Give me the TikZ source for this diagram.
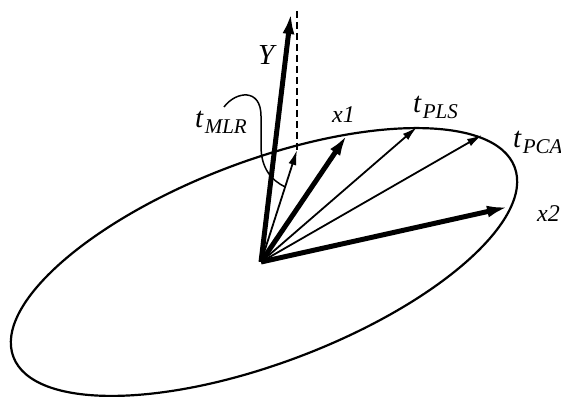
\documentclass[tikz,border=0pt]{standalone}
\usepackage{fontspec}
\setmainfont{Liberation Serif}
\usetikzlibrary{calc,arrows.meta}
\newcommand{\lblsub}[1]{\kern1.5pt\raisebox{-6pt}{\fontsize{21}{24}\selectfont #1}}

\begin{document}
\begin{tikzpicture}[x=1pt, y=1pt,
  thickvec/.style={line width=5pt, -{Latex[length=21pt,width=12pt]}},
  thinvec/.style={line width=1.8pt, -{Latex[length=15pt,width=8pt]}},
  lbl/.style={anchor=base west, inner sep=0pt, font=\fontsize{29}{33}\selectfont\itshape},
  xlbl/.style={lbl, font=\fontsize{24}{28}\selectfont\itshape}]
  \useasboundingbox (0,0) rectangle (561,396);
  \clip (0,0) rectangle (561,396);

  % Origin and tips of the vectors
  \coordinate (O)    at (261,134);
  \coordinate (ytip) at (291,383);
  \coordinate (dtop) at (297,385);
  \coordinate (tmlr) at (297,246);
  \coordinate (xone) at (347,261);
  \coordinate (tpls) at (417,269);
  \coordinate (tpca) at (482,261);
  \coordinate (xtwo) at (508,189);

  % Ellipse
  \draw[line width=2.2pt, rotate around={20.75:(264,134)}] (264,134) ellipse (268 and 101);

  % Projection of Y
  \draw[line width=1.8pt, dash pattern=on 7pt off 4pt] (dtop) -- (tmlr);

  % Vectors
  \draw[thinvec]  (O) -- (tmlr);
  \draw[thinvec]  (O) -- (tpls);
  \draw[thinvec]  (O) -- (tpca);
  \draw[thickvec] (O) -- (ytip);
  \draw[thickvec] (O) -- (xone);
  \draw[thickvec] (O) -- (xtwo);

  % Leader from t_MLR to its vector
  \coordinate (lstart) at (224,289);
  \coordinate (lend) at ($(O)!0.67!(tmlr)$);
  \draw[line width=1.5pt] (lstart) .. controls (236,305) and (261,308) .. (261,280)
    -- (261,250) .. controls (261,228) and (271,216) .. (lend);

  % Labels
  \node[lbl]  (ylab)    at (258,331) {Y};
  \node[lbl]  (tmlrlab) at (195,268) {t\lblsub{MLR}};
  \node[xlbl] (xonelab) at (332,273) {x1};
  \node[lbl]  (tplslab) at (413,283) {t\lblsub{PLS}};
  \node[lbl]  (tpcalab) at (513,248) {t\lblsub{PCA}};
  \node[xlbl] (xtwolab) at (537,174) {x2};
\end{tikzpicture}
\end{document}
